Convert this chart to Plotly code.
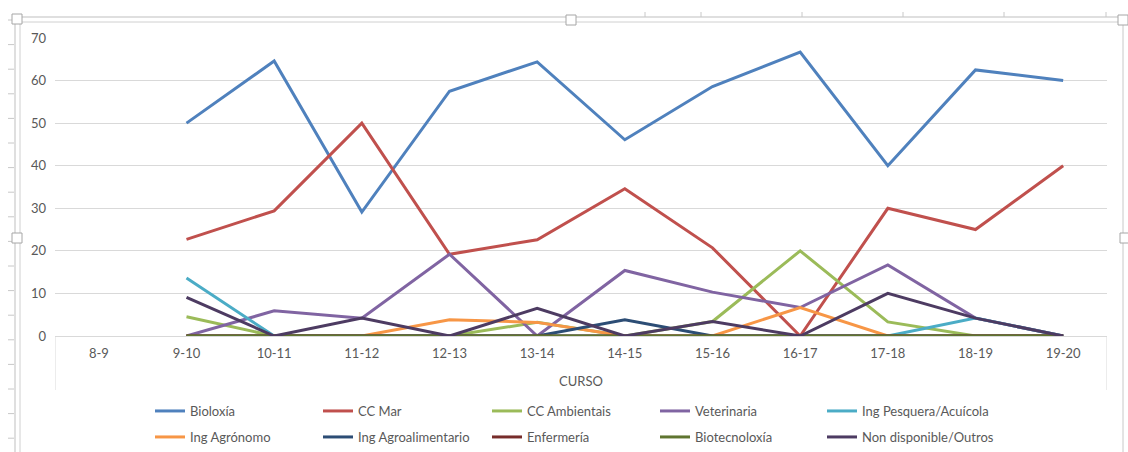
import plotly.graph_objects as go

cursos = ["8-9", "9-10", "10-11", "11-12", "12-13", "13-14", "14-15",
          "15-16", "16-17", "17-18", "18-19", "19-20"]

bioloxia = [None, 50, 64.6, 29.1, 57.5, 64.4, 46.1, 58.6, 66.7, 40.0, 62.5, 60.0]
cc_mar = [None, 22.7, 29.4, 50.0, 19.2, 22.6, 34.6, 20.7, 0, 30.0, 25.0, 40.0]
cc_ambientais = [None, 4.5, 0, 0, 0, 3.2, 0, 3.4, 20.0, 3.3, 0, 0]
veterinaria = [None, 0, 5.9, 4.2, 19.2, 0, 15.4, 10.3, 6.7, 16.7, 4.2, 0]
ing_pesquera = [None, 13.6, 0, 0, 0, 0, 0, 0, 0, 0, 4.2, 0]
ing_agronomo = [None, 0, 0, 0, 3.8, 3.2, 0, 0, 6.7, 0, 0, 0]
ing_agroalimentario = [None, 0, 0, 0, 0, 0, 3.8, 0, 0, 0, 0, 0]
enfermeria = [None, 0, 0, 0, 0, 0, 0, 0, 0, 0, 0, 0]
biotecnoloxia = [None, 0, 0, 0, 0, 0, 0, 0, 0, 0, 0, 0]
non_disponible = [None, 9.1, 0, 4.2, 0, 6.5, 0, 3.4, 0, 10.0, 4.2, 0]

series_names = ["Bioloxía", "CC Mar", "CC Ambientais", "Veterinaria",
                "Ing Pesquera/Acuícola", "Ing Agrónomo", "Ing Agroalimentario",
                "Enfermería", "Biotecnoloxía", "Non disponible/Outros"]
series_values = [bioloxia, cc_mar, cc_ambientais, veterinaria, ing_pesquera,
                 ing_agronomo, ing_agroalimentario, enfermeria, biotecnoloxia,
                 non_disponible]
colors = ["#4F81BD", "#C0504D", "#9BBB59", "#8064A2", "#4BACC6",
          "#F79646", "#2C4D75", "#772C2A", "#5F7530", "#4D3B62"]

W, H = 1128, 452
L, R, T, B = 55, 21, 38, 116
PW, PH = W - L - R, H - T - B

def px(x):
    return (x - L) / PW

def py(y):
    return (H - B - y) / PH

FONT = "Lato"
GREY = "#595959"

# legend slot positions (pixel): columns and rows
LEG_COLS = [150, 318, 487, 655, 822]
LEG_ROWS = [396, 422]

fig = go.Figure()
legends = {}
for i, (name, vals, col) in enumerate(zip(series_names, series_values, colors)):
    key = "legend" if i == 0 else f"legend{i + 1}"
    fig.add_trace(go.Scatter(
        x=cursos, y=vals, name=name, mode="lines",
        line=dict(color=col, width=3),
        legend=key,
        hoverinfo="skip",
    ))
    legends[key] = dict(
        orientation="h", x=px(LEG_COLS[i % 5]), xanchor="left",
        y=py(LEG_ROWS[i // 5]), yanchor="top",
        font=dict(family=FONT, size=13, color=GREY),
        bgcolor="rgba(0,0,0,0)", itemclick=False, itemdoubleclick=False,
    )

shapes = []
# category axis box side lines
for xv in (-0.5, len(cursos) - 0.5):
    shapes.append(dict(type="line", xref="x", yref="paper", x0=xv, x1=xv,
                       y0=0, y1=py(390), line=dict(color="#D9D9D9", width=1)))
# chart frame (double line)
shapes.append(dict(type="line", xref="paper", yref="paper", x0=px(15), x1=px(1123),
                   y0=py(17), y1=py(17), line=dict(color="#BFBFBF", width=1)))
shapes.append(dict(type="line", xref="paper", yref="paper", x0=px(20), x1=px(1123),
                   y0=py(22), y1=py(22), line=dict(color="#D0D0D0", width=1)))
shapes.append(dict(type="line", xref="paper", yref="paper", x0=px(15), x1=px(15),
                   y0=py(17), y1=py(452), line=dict(color="#BFBFBF", width=1)))
shapes.append(dict(type="line", xref="paper", yref="paper", x0=px(20), x1=px(20),
                   y0=py(22), y1=py(452), line=dict(color="#D0D0D0", width=1)))
shapes.append(dict(type="line", xref="paper", yref="paper", x0=px(1123), x1=px(1123),
                   y0=py(17), y1=py(452), line=dict(color="#C8C8C8", width=1)))
# left ruler ticks
for k in range(18):
    yy = 20 + 24.6 * k
    shapes.append(dict(type="line", xref="paper", yref="paper", x0=px(8), x1=px(14),
                       y0=py(yy), y1=py(yy), line=dict(color="#C8C8C8", width=1)))
# top ruler ticks
for xx in (645, 701, 802, 903, 1004, 1106):
    shapes.append(dict(type="line", xref="paper", yref="paper", x0=px(xx), x1=px(xx),
                       y0=py(12), y1=py(17), line=dict(color="#C8C8C8", width=1)))
# selection handles
for (hx, hy) in ((17, 19), (571, 20), (1123, 20), (17, 238), (1125, 238)):
    shapes.append(dict(type="rect", xref="paper", yref="paper",
                       x0=px(hx - 5), x1=px(hx + 5), y0=py(hy - 5), y1=py(hy + 5),
                       fillcolor="white", line=dict(color="#A6A6A6", width=1)))

fig.update_layout(
    width=W, height=H,
    margin=dict(l=L, r=R, t=T, b=B, autoexpand=False),
    paper_bgcolor="white", plot_bgcolor="white",
    font=dict(family=FONT, size=13, color=GREY),
    showlegend=True,
    shapes=shapes,
    xaxis=dict(
        type="category", categoryorder="array", categoryarray=cursos,
        range=[-0.5, len(cursos) - 0.5],
        showgrid=False, zeroline=False, showline=False, ticks="",
        tickfont=dict(family=FONT, size=13, color=GREY),
        ticklabelstandoff=8,
        title=dict(text="CURSO", font=dict(family=FONT, size=13, color=GREY), standoff=16),
        fixedrange=True,
    ),
    yaxis=dict(
        range=[0, 70], dtick=10, tick0=0,
        showgrid=True, gridcolor="#D9D9D9", gridwidth=1,
        zeroline=True, zerolinecolor="#D9D9D9", zerolinewidth=1,
        showline=False, ticks="",
        tickfont=dict(family=FONT, size=13, color=GREY),
        ticklabelstandoff=8,
        fixedrange=True,
    ),
    **legends,
)

fig.write_html("out.html",
               config={"displayModeBar": False, "staticPlot": False},
               post_script="document.body.style.margin='0';document.body.style.overflow='hidden';")
